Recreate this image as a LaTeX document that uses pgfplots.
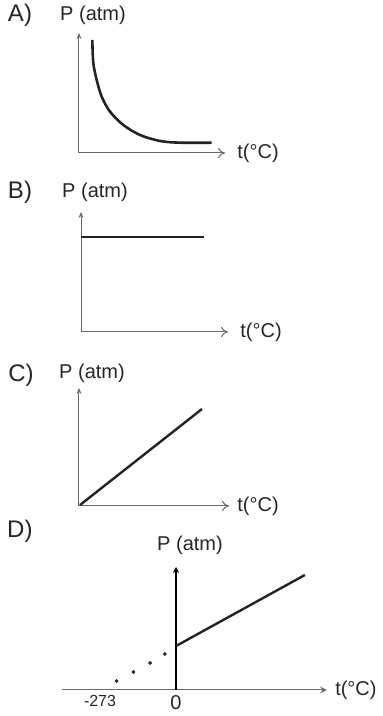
\documentclass[border=0pt]{standalone}
\usepackage{fontspec}
\setmainfont{Liberation Sans}
\usepackage{pgfplots}
\pgfplotsset{compat=1.18}
\usetikzlibrary{arrows.meta}

\definecolor{axisGray}{RGB}{105,105,105}
\definecolor{curveInk}{RGB}{35,35,35}

\pgfplotsset{
  sketch/.style={
    scale only axis,
    axis lines=left,
    x axis line style={axisGray, line width=0.5pt, -{To[length=3.5pt,width=5pt]}},
    y axis line style={axisGray, line width=0.5pt, -{Stealth[length=3pt,width=2.5pt]}},
    xtick=\empty, ytick=\empty,
    clip=false,
    anchor=origin,
  },
}
\tikzset{
  lab/.style={font=\fontsize{10}{12}\selectfont, inner sep=0pt, text=black!85},
  letter/.style={font=\fontsize{12}{14}\selectfont, inner sep=0pt, text=black!85},
}

\begin{document}
\begin{tikzpicture}
\useasboundingbox (0,0) rectangle (191pt,358pt);

% A) falling curve
\begin{axis}[sketch, at={(39.5pt,281.5pt)}, width=73pt, height=60pt,
    xmin=0, xmax=146, ymin=0, ymax=120]
  \addplot[smooth, curveInk, line width=1.3pt] coordinates {
    (13.3,113)(14.3,90)(17.7,73)(22.7,56.3)(31,41.3)(44.3,28)
    (61,18)(81,12)(101,10.3)(132.7,10.3)};
  \node[lab, xshift=7pt, yshift=9pt] at (axis description cs:0,1) {P (atm)};
  \node[letter, xshift=-29.5pt, yshift=9pt] at (axis description cs:0,1) {A)};
  \node[lab, anchor=west, xshift=6pt] at (axis description cs:1,0) {t(°C)};
\end{axis}

% B) constant
\begin{axis}[sketch, at={(40.5pt,192pt)}, width=73.5pt, height=60pt,
    xmin=0, xmax=147, ymin=0, ymax=120]
  \addplot[curveInk, line width=1.3pt] coordinates {(0,95)(123,95)};
  \node[lab, xshift=7pt, yshift=10pt] at (axis description cs:0,1) {P (atm)};
  \node[letter, xshift=-30.5pt, yshift=10pt] at (axis description cs:0,1) {B)};
  \node[lab, anchor=west, xshift=6pt] at (axis description cs:1,0) {t(°C)};
\end{axis}

% C) proportional
\begin{axis}[sketch, at={(39.5pt,105pt)}, width=75pt, height=59pt,
    xmin=0, xmax=150, ymin=0, ymax=118]
  \addplot[curveInk, line width=1.2pt] coordinates {(1,1)(123,97)};
  \node[lab, xshift=6.5pt, yshift=7.5pt] at (axis description cs:0,1) {P (atm)};
  \node[letter, xshift=-29pt, yshift=6.5pt] at (axis description cs:0,1) {C)};
  \node[lab, anchor=west, xshift=4pt] at (axis description cs:1,0) {t(°C)};
\end{axis}

% D) extrapolated to -273
\begin{axis}[sketch, axis lines=middle, at={(88pt,13pt)}, width=132.5pt, height=61.5pt,
    xmin=-410, xmax=542, ymin=0, ymax=123,
    y axis line style={black, line width=0.9pt, -{Stealth[length=3pt,width=3pt]}},
    xtick={-273,0}, xticklabels={{\fontsize{8}{10}\selectfont -273},{\fontsize{10}{12}\selectfont 0}},
    hide obscured x ticks=false,
    major tick length=0pt,
    xticklabel style={anchor=north, inner sep=0pt, yshift=-2.5pt, text=black!85}]
  \addplot[curveInk, line width=1.2pt] coordinates {(0,44)(463,115)};
  \addplot[only marks, mark=*, mark size=0.7pt, curveInk] coordinates {
    (-213,9)(-153,18)(-93,27)(-40,36)};
  \node[lab, xshift=7pt, yshift=11pt] at (axis cs:0,123) {P (atm)};
  \node[letter, xshift=-21pt, yshift=18pt] at (axis description cs:0,1) {D)};
  \node[lab, anchor=west, xshift=4pt] at (axis description cs:1,0) {t(°C)};
\end{axis}
\end{tikzpicture}
\end{document}
